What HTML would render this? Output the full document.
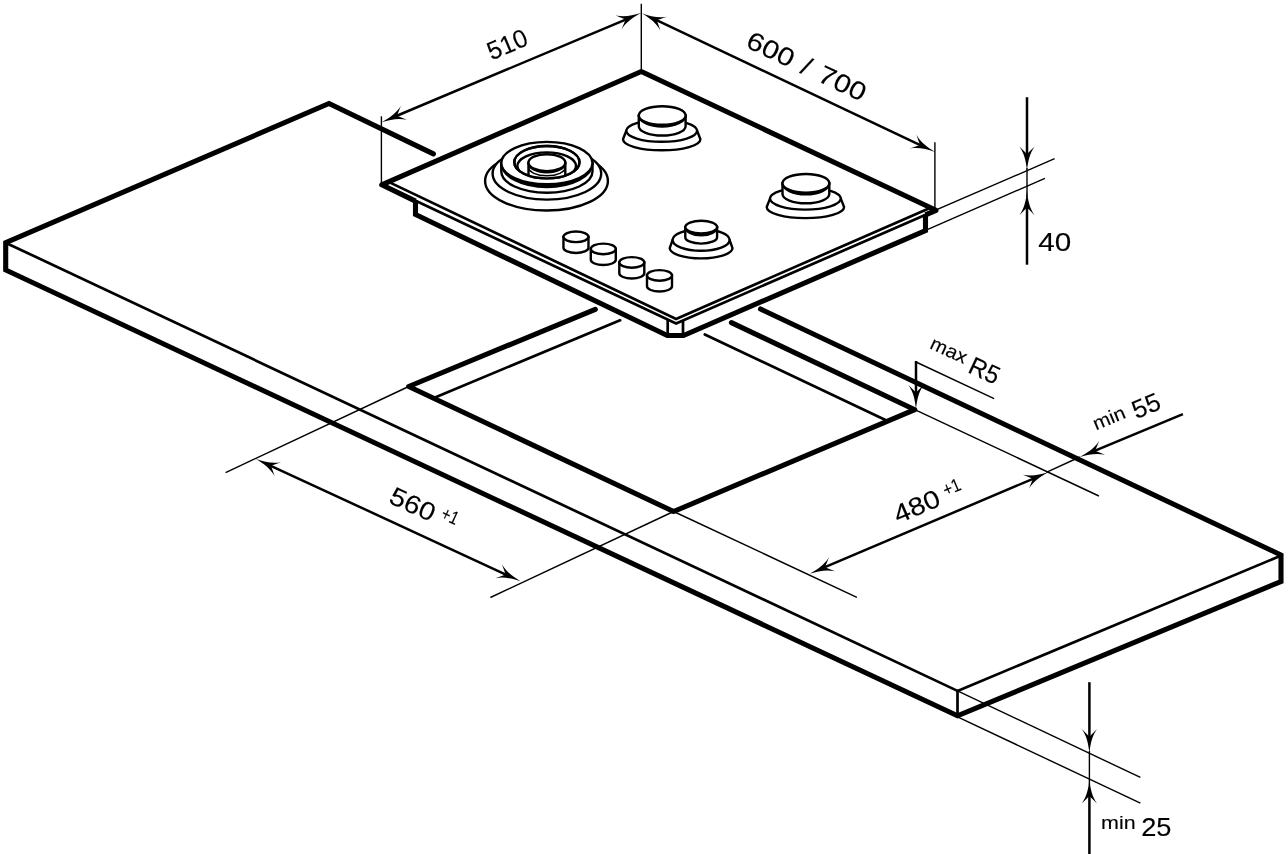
<!DOCTYPE html>
<html lang="en">
<head>
<meta charset="utf-8">
<title>Hob installation dimensions</title>
<style>
html,body{margin:0;padding:0;background:#fff;}
body{width:1288px;height:854px;overflow:hidden;font-family:"Liberation Sans",sans-serif;}
svg{display:block;will-change:transform;}
</style>
</head>
<body>
<svg width="1288" height="854" viewBox="0 0 1288 854">
<rect width="1288" height="854" fill="#fff"/>
<g stroke="#000" fill="none">
<line x1="7.70" y1="243.70" x2="957.50" y2="690.90" stroke-width="2.7" stroke-linecap="butt" />
<line x1="957.50" y1="690.90" x2="1280.00" y2="556.00" stroke-width="2.7" stroke-linecap="butt" />
<line x1="957.50" y1="690.90" x2="957.50" y2="715.80" stroke-width="2.7" stroke-linecap="butt" />
<path d="M433.40,153.90 L329.00,103.50 L5.70,242.70 L5.70,270.00 L957.50,715.80 L1281.00,581.50 L1281.00,555.00 L760.50,309.00" stroke-width="5.1" stroke-linejoin="miter" stroke-linecap="round" fill="none"/>
<path d="M595.30,309.30 L408.70,386.50 L673.60,511.50 L914.80,409.70 L731.40,322.60" stroke-width="5.1" stroke-linejoin="round" stroke-linecap="round" fill="none"/>
<line x1="435.00" y1="397.40" x2="620.10" y2="320.30" stroke-width="2.7" stroke-linecap="round" />
<line x1="886.00" y1="420.20" x2="704.80" y2="334.50" stroke-width="2.7" stroke-linecap="round" />
<path d="M381.70,184.80 L641.30,71.50 L936.00,210.30 L925.50,214.90 L925.50,230.50 L683.50,335.50 L667.30,335.50 L415.50,214.50 L415.50,201.10 Z" stroke-width="0" stroke-linejoin="miter" stroke-linecap="butt" fill="#fff"/>
<path d="M388.50,181.90 L676.10,318.90 L930.50,207.70" stroke-width="2.7" stroke-linejoin="miter" stroke-linecap="butt" fill="none"/>
<path d="M381.70,184.80 L676.10,323.40 L936.00,210.30" stroke-width="2.7" stroke-linejoin="miter" stroke-linecap="butt" fill="none"/>
<line x1="667.70" y1="320.00" x2="667.70" y2="335.50" stroke-width="2.7" stroke-linecap="butt" />
<line x1="683.00" y1="320.50" x2="683.00" y2="335.50" stroke-width="2.7" stroke-linecap="butt" />
<path d="M415.50,201.10 L381.70,184.80 L641.30,71.50 L936.00,210.30 L925.50,214.90" stroke-width="5.1" stroke-linejoin="round" stroke-linecap="butt" fill="none"/>
<path d="M415.50,200.60 L415.50,214.50 L667.30,335.50 L683.50,335.50 L925.50,230.50 L925.50,214.40" stroke-width="5.1" stroke-linejoin="miter" stroke-linecap="butt" fill="none"/>
</g>
<g stroke="#000" fill="#fff" stroke-width="2.4">
<path d="M626.30,130.80 L623.00,139.20 A38.70,11.10 0 0 0 700.40,139.20 L697.10,130.80 Z"/>
<ellipse cx="661.70" cy="130.80" rx="35.40" ry="11.00" />
<path d="M638.80,115.50 L638.80,126.20 A23.40,9.30 0 0 0 685.60,126.20 L685.60,115.50 Z"/>
<path d="M638.80,115.50 A23.40,9.30 0 0 0 685.60,115.50 A23.40,11.00 0 0 1 638.80,115.50 Z" fill="#000"/>
<ellipse cx="662.20" cy="115.50" rx="23.40" ry="9.30" />
<path d="M770.00,198.60 L766.70,207.00 A38.70,11.10 0 0 0 844.10,207.00 L840.80,198.60 Z"/>
<ellipse cx="805.40" cy="198.60" rx="35.40" ry="11.00" />
<path d="M782.50,183.30 L782.50,194.00 A23.40,9.30 0 0 0 829.30,194.00 L829.30,183.30 Z"/>
<path d="M782.50,183.30 A23.40,9.30 0 0 0 829.30,183.30 A23.40,11.00 0 0 1 782.50,183.30 Z" fill="#000"/>
<ellipse cx="805.90" cy="183.30" rx="23.40" ry="9.30" />
<path d="M672.60,240.00 L669.70,248.10 A31.40,10.30 0 0 0 732.50,248.10 L729.60,240.00 Z"/>
<ellipse cx="701.10" cy="240.00" rx="28.50" ry="10.80" />
<path d="M685.30,227.10 L685.30,237.20 A15.90,6.40 0 0 0 717.10,237.20 L717.10,227.10 Z"/>
<path d="M685.30,227.10 A15.90,6.40 0 0 0 717.10,227.10 A15.90,8.20 0 0 1 685.30,227.10 Z" fill="#000"/>
<ellipse cx="701.20" cy="227.10" rx="15.90" ry="6.40" />
<path d="M563.46,236.85 L563.46,247.65 A12.50,5.30 0 0 0 588.46,247.65 L588.46,236.85 Z"/>
<ellipse cx="575.96" cy="236.85" rx="12.50" ry="5.30" />
<path d="M590.80,248.95 L590.80,259.75 A12.50,5.30 0 0 0 615.80,259.75 L615.80,248.95 Z"/>
<ellipse cx="603.30" cy="248.95" rx="12.50" ry="5.30" />
<path d="M619.30,262.45 L619.30,273.25 A12.50,5.30 0 0 0 644.30,273.25 L644.30,262.45 Z"/>
<ellipse cx="631.80" cy="262.45" rx="12.50" ry="5.30" />
<path d="M647.00,275.45 L647.00,286.25 A12.50,5.30 0 0 0 672.00,286.25 L672.00,275.45 Z"/>
<ellipse cx="659.50" cy="275.45" rx="12.50" ry="5.30" />
<ellipse cx="546.50" cy="180.90" rx="61.40" ry="29.60" />
<ellipse cx="546.90" cy="173.60" rx="54.30" ry="26.00" />
<path d="M501.30,163.05 L501.30,171.55 A45.60,21.15 0 0 0 592.50,171.55 L592.50,163.05 Z"/>
<path d="M501.30,163.05 A45.60,21.15 0 0 0 592.50,163.05 A45.60,23.95 0 0 1 501.30,163.05 Z" fill="#000"/>
<ellipse cx="546.90" cy="163.05" rx="45.60" ry="21.15" />
<ellipse cx="546.90" cy="162.20" rx="32.60" ry="16.20" />
<clipPath id="hole"><ellipse cx="546.9" cy="162.2" rx="32.6" ry="16.2"/></clipPath>
<g clip-path="url(#hole)">
<ellipse cx="546.70" cy="166.00" rx="29.30" ry="13.60" />
<path d="M528.50,162.65 L528.50,182 L565.30,182 L565.30,162.65 Z"/>
<path d="M528.50,167.35 A18.4,8.45 0 0 0 565.30,167.35" fill="none" stroke-width="1.5"/>
</g>
<ellipse cx="546.90" cy="162.20" rx="32.60" ry="16.20" fill="none"/>
<path d="M528.50,162.65 A18.40,8.45 0 0 0 565.30,162.65 A18.40,9.65 0 0 1 528.50,162.65 Z" fill="#000"/>
<ellipse cx="546.90" cy="162.65" rx="18.40" ry="8.45" />
</g>
<g stroke="#000" fill="none">
<line x1="381.40" y1="116.30" x2="381.40" y2="183.90" stroke-width="1.4" stroke-linecap="butt" />
<line x1="641.30" y1="3.70" x2="641.30" y2="70.80" stroke-width="1.4" stroke-linecap="butt" />
<line x1="934.90" y1="142.20" x2="934.90" y2="208.20" stroke-width="1.4" stroke-linecap="butt" />
<line x1="937.90" y1="209.20" x2="1054.60" y2="158.70" stroke-width="1.4" stroke-linecap="butt" />
<line x1="927.80" y1="229.40" x2="1044.90" y2="178.30" stroke-width="1.4" stroke-linecap="butt" />
<line x1="1027.00" y1="168.00" x2="1027.00" y2="197.00" stroke-width="1.4" stroke-linecap="butt" />
<line x1="408.70" y1="386.50" x2="225.60" y2="472.60" stroke-width="1.4" stroke-linecap="butt" />
<line x1="673.60" y1="511.50" x2="490.40" y2="597.50" stroke-width="1.4" stroke-linecap="butt" />
<line x1="673.60" y1="511.50" x2="856.90" y2="597.30" stroke-width="1.4" stroke-linecap="butt" />
<line x1="914.80" y1="409.70" x2="1098.90" y2="496.00" stroke-width="1.4" stroke-linecap="butt" />
<line x1="1046.30" y1="472.40" x2="1079.80" y2="457.00" stroke-width="1.4" stroke-linecap="butt" />
<line x1="916.00" y1="362.00" x2="994.10" y2="398.60" stroke-width="1.4" stroke-linecap="butt" />
<line x1="957.50" y1="690.90" x2="1140.40" y2="777.40" stroke-width="1.4" stroke-linecap="butt" />
<line x1="957.50" y1="716.80" x2="1140.40" y2="803.20" stroke-width="1.4" stroke-linecap="butt" />
<line x1="1089.40" y1="751.00" x2="1089.40" y2="785.00" stroke-width="1.4" stroke-linecap="butt" />
<line x1="394.50" y1="116.77" x2="628.00" y2="18.53" stroke-width="2.5" stroke-linecap="butt" />
<path d="M0,0 C-9.5,-1.0 -17,-2.6 -24.2,-7.6 L-16.6,0 L-24.2,7.6 C-17,2.6 -9.5,1.0 0,0 Z" transform="translate(381.60,122.20) rotate(157.18)" fill="#000" stroke="none"/>
<path d="M0,0 C-9.5,-1.0 -17,-2.6 -24.2,-7.6 L-16.6,0 L-24.2,7.6 C-17,2.6 -9.5,1.0 0,0 Z" transform="translate(640.90,13.10) rotate(-22.82)" fill="#000" stroke="none"/>
<line x1="654.45" y1="19.19" x2="922.35" y2="146.01" stroke-width="2.5" stroke-linecap="butt" />
<path d="M0,0 C-9.5,-1.0 -17,-2.6 -24.2,-7.6 L-16.6,0 L-24.2,7.6 C-17,2.6 -9.5,1.0 0,0 Z" transform="translate(641.80,13.20) rotate(-154.67)" fill="#000" stroke="none"/>
<path d="M0,0 C-9.5,-1.0 -17,-2.6 -24.2,-7.6 L-16.6,0 L-24.2,7.6 C-17,2.6 -9.5,1.0 0,0 Z" transform="translate(935.00,152.00) rotate(25.33)" fill="#000" stroke="none"/>
<line x1="268.61" y1="464.78" x2="507.99" y2="575.52" stroke-width="2.5" stroke-linecap="butt" />
<path d="M0,0 C-9.5,-1.0 -17,-2.6 -24.2,-7.6 L-16.6,0 L-24.2,7.6 C-17,2.6 -9.5,1.0 0,0 Z" transform="translate(255.90,458.90) rotate(-155.17)" fill="#000" stroke="none"/>
<path d="M0,0 C-9.5,-1.0 -17,-2.6 -24.2,-7.6 L-16.6,0 L-24.2,7.6 C-17,2.6 -9.5,1.0 0,0 Z" transform="translate(520.70,581.40) rotate(24.83)" fill="#000" stroke="none"/>
<line x1="822.58" y1="568.22" x2="1035.32" y2="477.78" stroke-width="2.5" stroke-linecap="butt" />
<path d="M0,0 C-9.5,-1.0 -17,-2.6 -24.2,-7.6 L-16.6,0 L-24.2,7.6 C-17,2.6 -9.5,1.0 0,0 Z" transform="translate(809.70,573.70) rotate(156.97)" fill="#000" stroke="none"/>
<path d="M0,0 C-9.5,-1.0 -17,-2.6 -24.2,-7.6 L-16.6,0 L-24.2,7.6 C-17,2.6 -9.5,1.0 0,0 Z" transform="translate(1048.20,472.30) rotate(-23.03)" fill="#000" stroke="none"/>
<line x1="1182.90" y1="414.20" x2="1092.73" y2="451.63" stroke-width="2.5" stroke-linecap="butt" />
<path d="M0,0 C-9.5,-1.0 -17,-2.6 -24.2,-7.6 L-16.6,0 L-24.2,7.6 C-17,2.6 -9.5,1.0 0,0 Z" transform="translate(1079.80,457.00) rotate(157.46)" fill="#000" stroke="none"/>
<line x1="1027.00" y1="97.20" x2="1027.00" y2="156.60" stroke-width="2.5" stroke-linecap="butt" />
<path d="M0,0 C-9.5,-1.0 -17,-2.6 -24.2,-7.6 L-16.6,0 L-24.2,7.6 C-17,2.6 -9.5,1.0 0,0 Z" transform="translate(1027.00,170.60) rotate(90.00)" fill="#000" stroke="none"/>
<line x1="1027.00" y1="264.70" x2="1027.00" y2="205.00" stroke-width="2.5" stroke-linecap="butt" />
<path d="M0,0 C-9.5,-1.0 -17,-2.6 -24.2,-7.6 L-16.6,0 L-24.2,7.6 C-17,2.6 -9.5,1.0 0,0 Z" transform="translate(1027.00,191.00) rotate(-90.00)" fill="#000" stroke="none"/>
<line x1="1089.40" y1="682.20" x2="1089.40" y2="739.30" stroke-width="2.5" stroke-linecap="butt" />
<path d="M0,0 C-9.5,-1.0 -17,-2.6 -24.2,-7.6 L-16.6,0 L-24.2,7.6 C-17,2.6 -9.5,1.0 0,0 Z" transform="translate(1089.40,753.30) rotate(90.00)" fill="#000" stroke="none"/>
<line x1="1089.40" y1="856.00" x2="1089.40" y2="793.30" stroke-width="2.5" stroke-linecap="butt" />
<path d="M0,0 C-9.5,-1.0 -17,-2.6 -24.2,-7.6 L-16.6,0 L-24.2,7.6 C-17,2.6 -9.5,1.0 0,0 Z" transform="translate(1089.40,779.30) rotate(-90.00)" fill="#000" stroke="none"/>
<line x1="916.00" y1="361.00" x2="916.00" y2="395.20" stroke-width="2.5" stroke-linecap="butt" />
<path d="M0,0 C-9.5,-1.0 -17,-2.6 -24.2,-7.6 L-16.6,0 L-24.2,7.6 C-17,2.6 -9.5,1.0 0,0 Z" transform="translate(916.00,409.20) rotate(90.00)" fill="#000" stroke="none"/>
</g>
<g fill="#000" stroke="#000" stroke-width="0.12" font-family="'Liberation Sans', sans-serif">
<text id="t510" transform="translate(491.40,60.60) rotate(-22.80) scale(0.978,1)" font-size="25.5" >510</text>
<text id="t600" transform="translate(744.50,46.60) rotate(25.40) scale(1.170,1)" font-size="25.5" word-spacing="2">600 / 700</text>
<text id="t560" transform="translate(387.50,502.30) rotate(24.80) scale(1.117,1)" font-size="25.5" >560</text>
<text id="t560s" transform="translate(439.70,518.00) rotate(24.80) scale(0.816,1)" font-size="18.5" >+1</text>
<text id="t480" transform="translate(898.00,523.80) rotate(-23.00) scale(1.135,1)" font-size="25.5" >480</text>
<text id="t480s" transform="translate(946.00,496.40) rotate(-23.00) scale(0.840,1)" font-size="18.5" >+1</text>
<text id="t40" transform="translate(1038.20,250.88) rotate(0.00) scale(1.164,1)" font-size="25.5" >40</text>
<text id="tmin25" transform="translate(1101.10,829.00) rotate(0.00) scale(1.130,1)" font-size="19" >min</text>
<text id="t25" transform="translate(1141.20,835.80) rotate(0.00) scale(1.067,1)" font-size="25.5" >25</text>
<text id="tmax" transform="translate(928.80,347.90) rotate(25.00) scale(1.073,1)" font-size="19" >max</text>
<text id="tR5" transform="translate(966.80,371.90) rotate(25.00) scale(0.951,1)" font-size="25.5" >R5</text>
<text id="tmin55" transform="translate(1096.00,430.40) rotate(-22.50) scale(1.098,1)" font-size="19" >min</text>
<text id="t55" transform="translate(1136.30,419.30) rotate(-22.50) scale(1.002,1)" font-size="25.5" >55</text>
</g>
</svg>
</body>
</html>
